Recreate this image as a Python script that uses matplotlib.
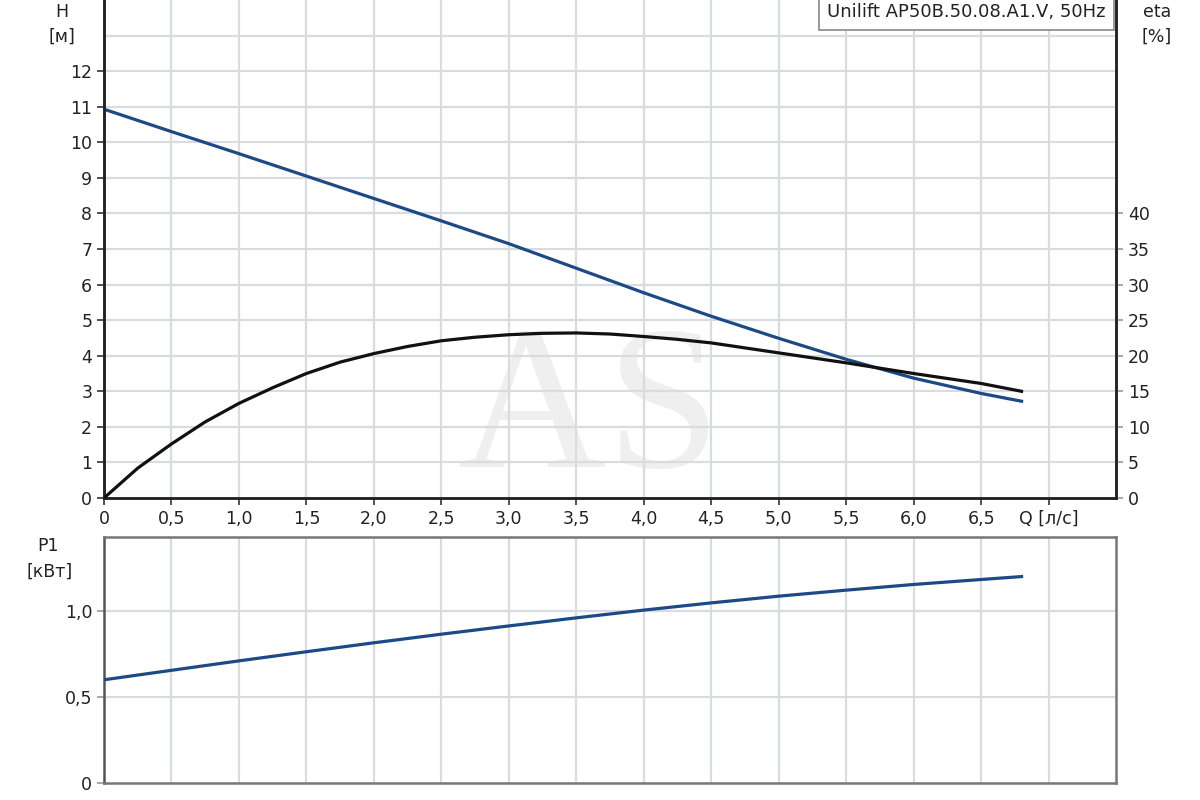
import matplotlib.pyplot as plt
from matplotlib.transforms import IdentityTransform
import numpy as np

plt.rcParams['font.family'] = ['DejaVu Sans']

# flow [l/s]
q = [0, 0.5, 1.0, 1.5, 2.0, 2.5, 3.0, 3.5, 4.0, 4.5, 5.0, 5.5, 6.0, 6.5, 6.8]
# head [m]
head = [10.93, 10.30, 9.68, 9.05, 8.42, 7.79, 7.15, 6.46, 5.77, 5.11, 4.49, 3.90, 3.37, 2.94, 2.72]
# power P1 [kW]
p1 = [0.60, 0.655, 0.71, 0.763, 0.815, 0.865, 0.913, 0.96, 1.005, 1.047, 1.086, 1.121, 1.154, 1.183, 1.20]
# efficiency [%]
q_eta = [0, 0.25, 0.5, 0.75, 1.0, 1.25, 1.5, 1.75, 2.0, 2.25, 2.5, 2.75, 3.0, 3.25, 3.5, 3.75,
         4.0, 4.25, 4.5, 5.0, 5.5, 6.0, 6.5, 6.8]
eta = [0, 4.2, 7.6, 10.7, 13.3, 15.5, 17.5, 19.1, 20.3, 21.3, 22.1, 22.6, 22.95, 23.15, 23.2, 23.05,
       22.7, 22.3, 21.8, 20.4, 19.0, 17.5, 16.1, 15.0]

x_ticks = np.arange(0, 7.01, 0.5)
x_labels = ['0'] + ['{:.1f}'.format(v).replace('.', ',') for v in x_ticks[1:-1]] + ['Q [л/с]']

blue = '#1b4a86'
grid_c = '#d9dbe0'
text_c = '#222222'
fs = 12.5

fig = plt.figure(figsize=(12, 8), dpi=100)
ax = fig.add_axes([104 / 1200, 1 - 498 / 800, (1116 - 104) / 1200, 498 / 800])
ax2 = ax.twinx()
axp = fig.add_axes([104 / 1200, 1 - 783 / 800, (1116 - 104) / 1200, (783 - 537) / 800])

# top panel: H and eta
ax.set_xlim(0, 7.5)
ax.set_ylim(0, 14)
ax2.set_ylim(0, 70)
for v in x_ticks[1:]:
    ax.axvline(v, color=grid_c, lw=1.6, zorder=1)
for v in range(1, 14):
    ax.axhline(v, color=grid_c, lw=1.6, zorder=1)

# watermark, placed in pixels
ax.text(458, 800 - 467, 'AS', fontsize=148, family='Liberation Serif', color='#efefef',
        ha='left', va='baseline', transform=IdentityTransform(), zorder=0.5)

ax.plot(q, head, color=blue, lw=2.3, zorder=3)
ax2.plot(q_eta, eta, color='#111111', lw=2.3, zorder=3)
ax2.set_zorder(ax.get_zorder() + 1)
ax2.patch.set_visible(False)

ax.set_yticks(range(0, 13))
ax.set_yticklabels([str(v) for v in range(0, 13)])
ax.set_xticks(x_ticks)
ax.set_xticklabels(x_labels)
ax2.set_yticks(range(0, 41, 5))
ax.tick_params(axis='both', labelsize=fs, colors='#333333', labelcolor=text_c, length=5, width=1.2)
ax2.tick_params(axis='y', labelsize=fs, colors='#999999', labelcolor=text_c, length=5, width=1.2)

for a in (ax, ax2):
    a.spines['top'].set_visible(False)
    for s in ('left', 'right', 'bottom'):
        a.spines[s].set_linewidth(1.8)
        a.spines[s].set_color('#222222')

fig.text(62 / 1200, 1 - 12 / 800, 'H', fontsize=fs, color=text_c, ha='center', va='center')
fig.text(62 / 1200, 1 - 37 / 800, '[м]', fontsize=fs, color=text_c, ha='center', va='center')
fig.text(1157 / 1200, 1 - 12 / 800, 'eta', fontsize=fs, color=text_c, ha='center', va='center')
fig.text(1157 / 1200, 1 - 37 / 800, '[%]', fontsize=fs, color=text_c, ha='center', va='center')

ax.text(0.99, 0.993, 'Unilift AP50B.50.08.A1.V, 50Hz', transform=ax.transAxes,
        fontsize=13, color=text_c, ha='right', va='top', zorder=5,
        bbox=dict(boxstyle='square,pad=0.45', fc='white', ec='#888888', lw=1.2))

# bottom panel: P1
axp.set_xlim(0, 7.5)
axp.set_ylim(0, 1.43)
for v in x_ticks[1:]:
    axp.axvline(v, color=grid_c, lw=1.6, zorder=0)
for v in (0.5, 1.0):
    axp.axhline(v, color=grid_c, lw=1.6, zorder=0)
axp.plot(q, p1, color=blue, lw=2.3, zorder=3)
axp.set_xticks([])
axp.set_yticks([0, 0.5, 1.0])
axp.set_yticklabels(['0', '0,5', '1,0'])
axp.tick_params(axis='y', labelsize=fs, colors='#999999', labelcolor=text_c, length=5, width=1.2)
for s in ('left', 'right', 'bottom', 'top'):
    axp.spines[s].set_linewidth(1.8)
    axp.spines[s].set_color('#777777')
axp.spines['left'].set_color('#555555')

fig.text(48 / 1200, 1 - 546 / 800, 'P1', fontsize=fs, color=text_c, ha='center', va='center')
fig.text(50 / 1200, 1 - 572 / 800, '[кВт]', fontsize=fs, color=text_c, ha='center', va='center')

fig.savefig('out.png', dpi=100, facecolor='white')
